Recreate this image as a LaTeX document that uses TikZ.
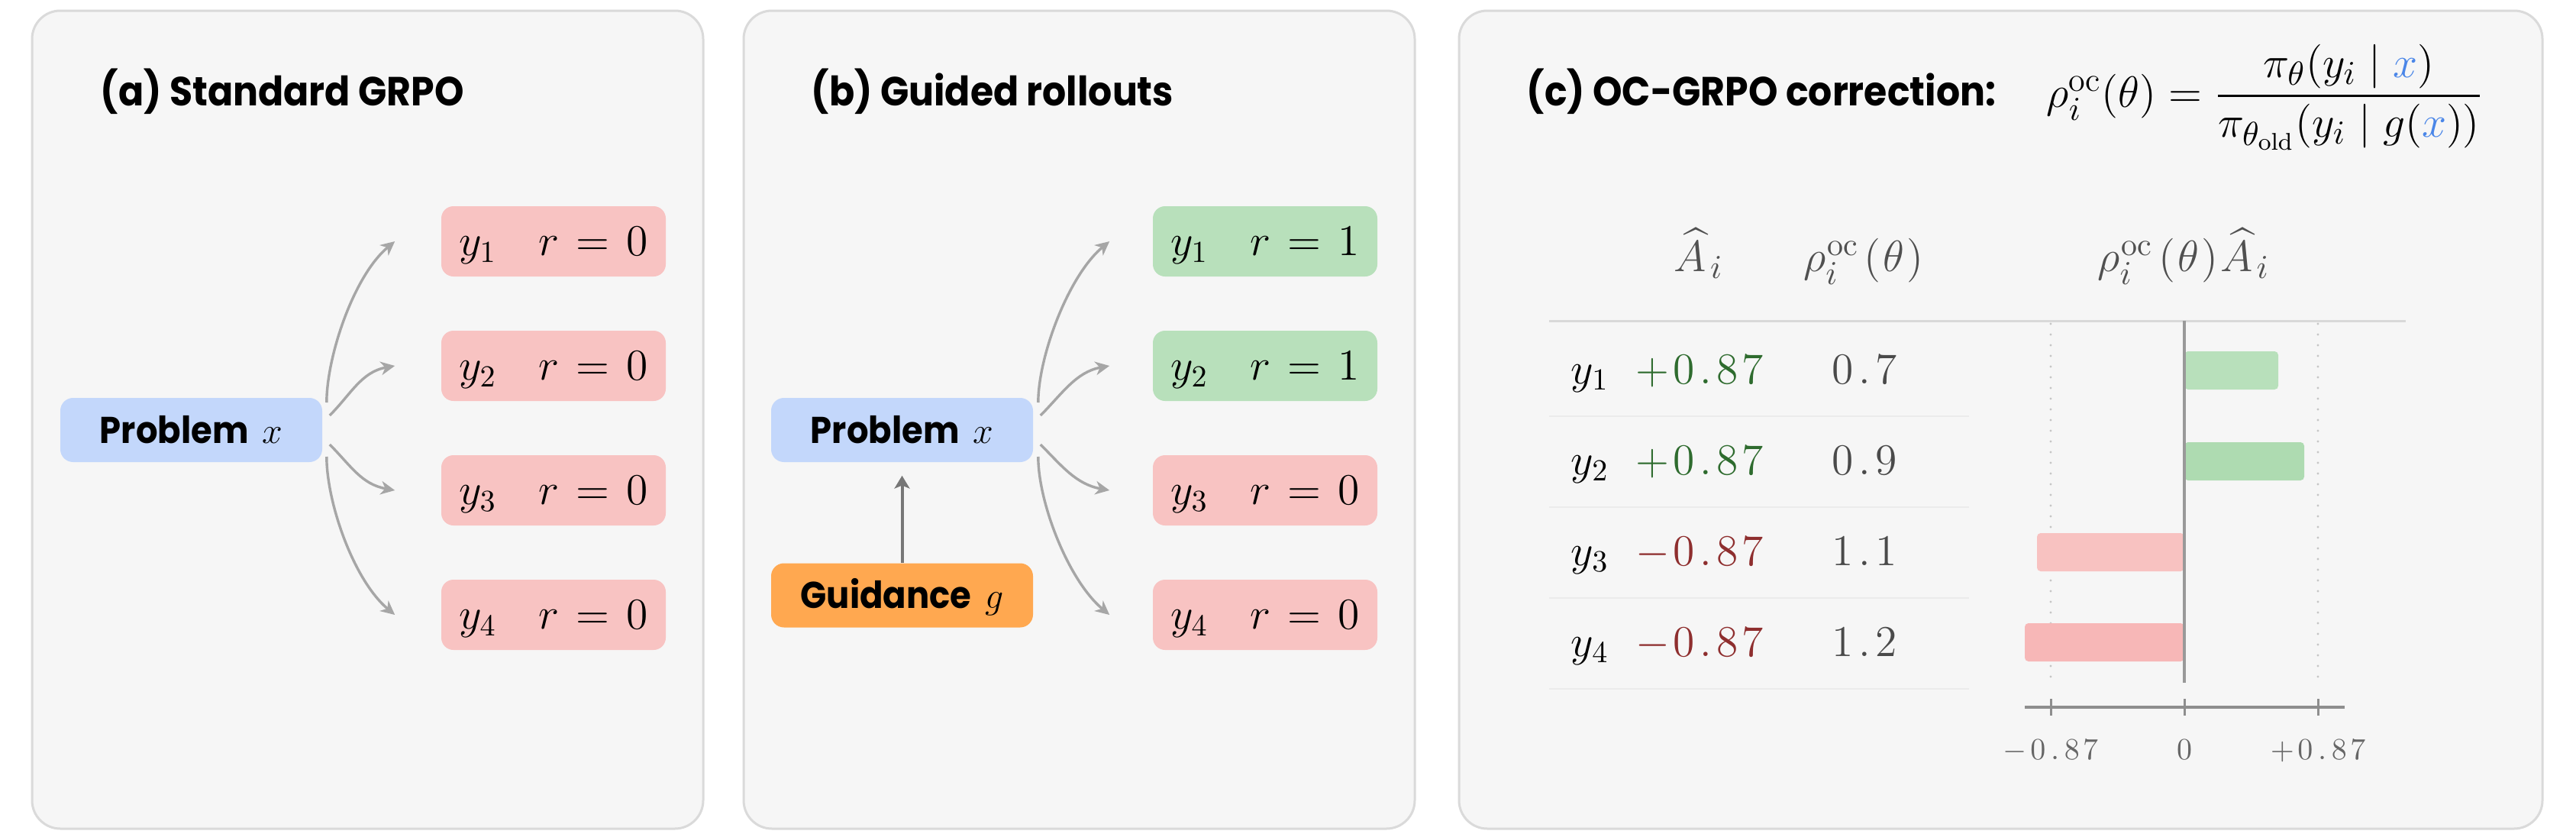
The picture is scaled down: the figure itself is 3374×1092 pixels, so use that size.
\documentclass[tikz,border=0pt]{standalone}
\usepackage{amsmath}
\usepackage{fontspec}
\setsansfont{Poppins}[FakeStretch=0.92]
\usetikzlibrary{arrows.meta}
\definecolor{panelbg}{HTML}{F6F6F6}
\definecolor{panelln}{HTML}{DADADA}
\definecolor{probc}{HTML}{C3D7FB}
\definecolor{badc}{HTML}{F8C3C2}
\definecolor{goodc}{HTML}{B8E0BB}
\definecolor{guidc}{HTML}{FFA850}
\definecolor{arrc}{HTML}{A6A6A6}
\definecolor{garrc}{HTML}{777777}
\definecolor{bluex}{HTML}{4A86E8}
\definecolor{posc}{HTML}{2E6B2E}
\definecolor{negc}{HTML}{8E2E2E}
\definecolor{numc}{HTML}{4A4A4A}
\definecolor{hdrc}{HTML}{505050}
\definecolor{tickc}{HTML}{666666}
\definecolor{axc}{HTML}{8E8E8E}
\definecolor{zeroc}{HTML}{999999}
\definecolor{dotc}{HTML}{C6C6C6}
\definecolor{hline}{HTML}{D9D9D9}
\definecolor{sepc}{HTML}{EBEBEB}
\definecolor{barga}{HTML}{B8E0BB}
\definecolor{bargb}{HTML}{AEDBB1}
\definecolor{barra}{HTML}{F8C2C1}
\definecolor{barrb}{HTML}{F7B7B7}
\begin{document}
\begin{tikzpicture}[x=0.25pt,y=-0.25pt,
  panel/.style={draw=panelln, line width=0.75pt, fill=panelbg, rounded corners=9.25pt},
  ttl/.style={anchor=base west, inner sep=0pt, font=\fontsize{13.3}{16}\selectfont\sffamily\bfseries},
  lbl/.style={rounded corners=4.2pt, inner sep=0pt, minimum width=85.75pt, minimum height=21pt,
              text height=8.5pt, text depth=0pt, font=\fontsize{12.2}{14}\selectfont\sffamily\bfseries},
  ybox/.style={rounded corners=4pt, inner sep=0pt, minimum width=73.5pt, minimum height=23pt,
               text height=9.3pt, text depth=0pt, font=\fontsize{14.3}{16}\selectfont},
  fan/.style={draw=arrc, line width=0.85pt, -{Stealth[length=4.6pt,width=4.4pt,inset=1.4pt]}},
  garr/.style={draw=garrc, line width=1pt, -{Stealth[length=4.2pt,width=5pt,inset=1pt]}},
  hdr/.style={anchor=base, inner sep=0pt, text=hdrc, font=\fontsize{15}{17}\selectfont},
  cell/.style={anchor=base, inner sep=0pt, font=\fontsize{14}{16}\selectfont},
  tick/.style={anchor=base, inner sep=0pt, text=tickc, font=\fontsize{10}{12}\selectfont},
]
\useasboundingbox (0,0) rectangle (3374,1092);
\fill[white] (0,0) rectangle (3374,1092);

% panels
\draw[panel] (42,14) rectangle (921,1085);
\draw[panel] (974,14) rectangle (1853,1085);
\draw[panel] (1911,14) rectangle (3330,1085);

% ---------- (a)
\node[ttl] (ta) at (131,138) {(a) Standard GRPO};
\node[lbl, fill=probc] (pa) at (250.5,563) {Problem\, $x$};
\foreach \i/\yy in {1/316,2/479,3/642,4/805}{
  \node[ybox, fill=badc] (a\i) at (725,\yy) {$y_{\i}\mkern17mu r\mkern2mu=\mkern2mu0$};
}
\draw[fan] ([shift={(5,-36)}]pa.east) .. controls +(0,-60) and +(-54,45) .. ([xshift=-15]a1.west);
\draw[fan] ([shift={(9,-19)}]pa.east) .. controls +(28,-28) and +(-44,8) .. ([xshift=-15]a2.west);
\draw[fan] ([shift={(9,19)}]pa.east) .. controls +(28,28) and +(-44,-8) .. ([xshift=-15]a3.west);
\draw[fan] ([shift={(5,35)}]pa.east) .. controls +(0,60) and +(-54,-45) .. ([xshift=-15]a4.west);

% ---------- (b)
\node[ttl] (tb) at (1062,138) {(b) Guided rollouts};
\node[lbl, fill=probc] (pb) at (1181.5,563) {Problem\, $x$};
\node[lbl, fill=guidc] (gb) at (1181.5,779.5) {Guidance\, $g$};
\node[ybox, fill=goodc] (b1) at (1657,316) {$y_{1}\mkern17mu r\mkern2mu=\mkern2mu1$};
\node[ybox, fill=goodc] (b2) at (1657,479) {$y_{2}\mkern17mu r\mkern2mu=\mkern2mu1$};
\node[ybox, fill=badc] (b3) at (1657,642) {$y_{3}\mkern17mu r\mkern2mu=\mkern2mu0$};
\node[ybox, fill=badc] (b4) at (1657,805) {$y_{4}\mkern17mu r\mkern2mu=\mkern2mu0$};
\draw[fan] ([shift={(6,-36)}]pb.east) .. controls +(0,-60) and +(-54,45) .. ([xshift=-14]b1.west);
\draw[fan] ([shift={(9,-19)}]pb.east) .. controls +(28,-28) and +(-44,8) .. ([xshift=-14]b2.west);
\draw[fan] ([shift={(9,19)}]pb.east) .. controls +(28,28) and +(-44,-8) .. ([xshift=-14]b3.west);
\draw[fan] ([shift={(6,35)}]pb.east) .. controls +(0,60) and +(-54,-45) .. ([xshift=-14]b4.west);
\draw[garr, shorten >=4.25pt] (gb.north) -- (pb.south);

% ---------- (c)
\node[ttl] (tc) at (1999,138) {(c) OC-GRPO correction:};
\node[anchor=base west, inner sep=0pt, font=\fontsize{15.8}{18}\selectfont] (eq) at (2680,140)
  {$\rho_i^{\mathrm{oc}}(\theta) = \dfrac{\pi_\theta(y_i \mid \textcolor{bluex}{x})}{\pi_{\theta_{\mathrm{old}}}(y_i \mid g(\textcolor{bluex}{x}))}$};

\node[hdr] (h1) at (2225,355) {$\widehat{A}_{\mkern2mu i}$};
\node[hdr] (h2) at (2441,355) {$\rho_{i}^{\mkern1mu\mathrm{oc}}\mkern2mu(\mkern1mu\theta\mkern1mu)$};
\node[hdr] (h3) at (2860,355) {$\rho_{i}^{\mkern1mu\mathrm{oc}}\mkern2mu(\mkern1mu\theta\mkern1mu)\mkern1mu\widehat{A}_{\mkern2mu i}$};

\draw[hline, line width=0.75pt] (2029,420) -- (3151,420);
\foreach \yy in {545,664,783,902}{
  \draw[sepc, line width=0.6pt] (2029,\yy) -- (2579,\yy);
}
\foreach \i/\bl/\v/\c in {1/502/+/posc, 2/621/+/posc, 3/740/-/negc, 4/859/-/negc}{
  \node[cell, anchor=base west] (ry\i) at (2057,\bl) {$y_{\i}$};
  \node[cell, text=\c] (rv\i) at (2226,\bl) {$\v\mkern1.5mu0\mkern2mu.\mkern2mu8\mkern1.5mu7$};
}
\node[cell, text=numc] (rr1) at (2442,502) {$0\mkern2mu.\mkern2mu7$};
\node[cell, text=numc] (rr2) at (2442,621) {$0\mkern2mu.\mkern2mu9$};
\node[cell, text=numc] (rr3) at (2442,740) {$1\mkern2mu.\mkern2mu1$};
\node[cell, text=numc] (rr4) at (2442,859) {$1\mkern2mu.\mkern2mu2$};

% chart
\draw[dotc, line width=0.8pt, line cap=round, dash pattern=on 0pt off 3.5pt] (2686,424) -- (2686,894);
\draw[dotc, line width=0.8pt, line cap=round, dash pattern=on 0pt off 3.5pt] (3036,424) -- (3036,894);
\fill[barga, rounded corners=1.2pt] (2861,460) rectangle (2984,510);
\fill[bargb, rounded corners=1.2pt] (2861,579) rectangle (3018,629);
\fill[barra, rounded corners=1.2pt] (2668,698) rectangle (2861,748);
\fill[barrb, rounded corners=1.2pt] (2652,816) rectangle (2861,866);
\draw[zeroc, line width=0.8pt] (2861,420) -- (2861,894);
\draw[axc, line width=1pt] (2652,926) -- (3071,926);
\foreach \xx in {2686,2861,3036}{
  \draw[axc, line width=0.75pt] (\xx,915) -- (\xx,937);
}
\node[tick] (k1) at (2686,994) {$-\mkern2mu0\mkern3mu.\mkern3mu8\mkern2mu7$};
\node[tick] (k2) at (2861,994) {$0$};
\node[tick] (k3) at (3036,994) {$+\mkern2mu0\mkern3mu.\mkern3mu8\mkern2mu7$};
\end{tikzpicture}
\end{document}
